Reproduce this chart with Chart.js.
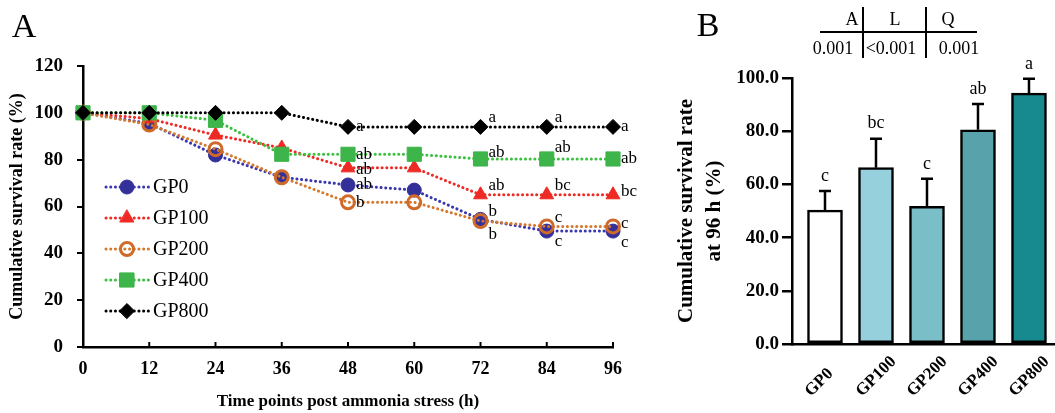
<!DOCTYPE html>
<html>
<head>
<meta charset="utf-8">
<script src="https://cdn.jsdelivr.net/npm/chart.js@4.4.1/dist/chart.umd.min.js"></script>
<style>
  html, body { margin: 0; padding: 0; background: #fff; }
  #wrap { position: relative; width: 1055px; height: 413px; }
  #lineChart { position: absolute; left: 0; top: 0; }
  #barChart { position: absolute; left: 650px; top: 0; }
</style>
</head>
<body>
<div id="wrap">
  <canvas id="lineChart" width="650" height="413"></canvas>
  <canvas id="barChart" width="405" height="413"></canvas>
</div>
<script>
// ---- Daten: kumulative Überlebensrate (%) nach Ammoniakstress ----
const hours = [0, 12, 24, 36, 48, 60, 72, 84, 96];
const gp0   = [100, 95.5, 82, 72.5, 69.2, 67, 54.5, 49.5, 49.5];
const gp100 = [100, 97.5, 90.5, 85, 76.5, 76.5, 65, 65, 65];
const gp200 = [100, 95, 84.5, 72.5, 61.8, 61.8, 53.8, 51.5, 51.5];
const gp400 = [100, 100, 96.8, 82.3, 82.3, 82.3, 80.3, 80.3, 80.3];
const gp800 = [100, 100, 100, 100, 94, 94, 94, 94, 94];

// Signifikanzbuchstaben je Zeitpunkt
const sigGP0   = ['', '', '', '', 'ab', '', 'b', 'c', 'c'];
const sigGP100 = ['', '', '', '', 'ab', '', 'ab', 'bc', 'bc'];
const sigGP200 = ['', '', '', '', 'b', '', 'b', 'c', 'c'];
const sigGP400 = ['', '', '', '', 'ab', '', 'ab', 'ab', 'ab'];
const sigGP800 = ['', '', '', '', 'a', '', 'a', 'a', 'a'];

// ---- Daten: Überlebensrate nach 96 h ----
const groups = ['GP0', 'GP100', 'GP200', 'GP400', 'GP800'];
const survival96 = [50.3, 66.3, 51.8, 80.5, 94.3];
const survivalSE = [7.2, 10.9, 10.3, 9.7, 5.4];
const barLetters = ['c', 'bc', 'c', 'ab', 'a'];

// Kontraste (A, L, Q) und P-Werte
const effects = ['A', 'L', 'Q'];
const pValues = ['0.001', '<0.001', '0.001'];

// ---- Stil ----
const SERIF = "'Liberation Serif', 'Times New Roman', serif";
Chart.defaults.font.family = SERIF;
Chart.defaults.color = '#000';

// vertikale Verschiebung der Buchstaben (px) relativ zum Punkt
const sigShift = {
    GP0:   [0, 0, 0, 0, 0, 0, -8, 10, 11],
    GP100: [0, 0, 0, 0, 2, 0, -9, -9, -3],
    GP200: [0, 0, 0, 0, 0, 0, 14, -9, -3],
    GP400: [0, 0, 0, 0, 0, 0, -6, -11, 0],
    GP800: [0, 0, 0, 0, 0, 0, -9, -9, 0]
};

const series = [
    { label: 'GP0',   data: gp0,   sig: sigGP0,   color: '#34309a', fill: '#34309a', style: 'circle',   radius: 7,  bw: 1,   order: 5 },
    { label: 'GP100', data: gp100, sig: sigGP100, color: '#ee2a24', fill: '#ee2a24', style: 'triangle', radius: 8,  bw: 1,   order: 4 },
    { label: 'GP200', data: gp200, sig: sigGP200, color: '#cf6a2a', fill: 'rgba(0,0,0,0)', style: 'circle', radius: 6.5, bw: 3, order: 3 },
    { label: 'GP400', data: gp400, sig: sigGP400, color: '#3db54a', fill: '#3db54a', style: 'rect',     radius: 10, bw: 1,   order: 2 },
    { label: 'GP800', data: gp800, sig: sigGP800, color: '#000000', fill: '#000000', style: 'rectRot',  radius: 7.5, bw: 1,  order: 1 }
];

const lineColors = { GP0: '#3a36b0', GP100: '#ee2a24', GP200: '#d4782e', GP400: '#3cc040', GP800: '#000000' };
const DOTS = [0.1, 4.6];

// ---- Plugin: Legende, Buchstaben, innere x-Ticks, "A" ----
const lineExtras = {
    id: 'lineExtras',
    afterDraw(chart) {
        const ctx = chart.ctx;
        const area = chart.chartArea;
        const xs = chart.scales.x;
        ctx.save();

        // Ticks nach innen
        ctx.strokeStyle = '#000';
        ctx.lineWidth = 2;
        hours.slice(1).forEach(h => {
            const x = xs.getPixelForValue(h);
            ctx.beginPath();
            ctx.moveTo(x, area.bottom);
            ctx.lineTo(x, area.bottom - 5);
            ctx.stroke();
        });

        // Buchstaben neben den Punkten
        ctx.font = '17px ' + SERIF;
        ctx.fillStyle = '#000';
        ctx.textAlign = 'left';
        ctx.textBaseline = 'middle';
        series.forEach((s, i) => {
            const meta = chart.getDatasetMeta(i);
            s.sig.forEach((txt, j) => {
                if (!txt) return;
                const p = meta.data[j];
                ctx.fillText(txt, p.x + 8, p.y + sigShift[s.label][j]);
            });
        });

        // Legende
        series.forEach((s, i) => {
            const y = area.top + 121 + i * 31;
            ctx.strokeStyle = lineColors[s.label];
            ctx.lineWidth = 3;
            ctx.lineCap = 'round';
            ctx.setLineDash(DOTS);
            ctx.beginPath();
            ctx.moveTo(106, y);
            ctx.lineTo(149, y);
            ctx.stroke();
            ctx.setLineDash([]);
            ctx.fillStyle = s.fill;
            ctx.strokeStyle = s.color;
            ctx.lineWidth = s.bw;
            Chart.helpers.drawPoint(ctx, { pointStyle: s.style, radius: s.radius, rotation: 0, borderWidth: s.bw }, 127, y);
            ctx.fillStyle = '#000';
            ctx.font = '20px ' + SERIF;
            ctx.fillText(s.label, 153, y + 1);
        });

        ctx.font = '34px ' + SERIF;
        ctx.textAlign = 'center';
        ctx.fillText('A', 24, 28);
        ctx.restore();
    }
};

new Chart(document.getElementById('lineChart'), {
    type: 'line',
    data: {
        datasets: series.map(s => ({
            label: s.label,
            data: hours.map((h, i) => ({ x: h, y: s.data[i] })),
            borderColor: lineColors[s.label],
            borderWidth: 3,
            borderDash: DOTS,
            borderCapStyle: 'round',
            pointStyle: s.style,
            pointRadius: s.radius,
            pointBackgroundColor: s.fill,
            pointBorderColor: s.color,
            pointBorderWidth: s.bw,
            order: s.order,
            clip: false,
            tension: 0
        }))
    },
    options: {
        responsive: false,
        animation: false,
        events: [],
        layout: { padding: { left: 0, top: 66, right: 37, bottom: 0 } },
        plugins: { legend: { display: false }, tooltip: { enabled: false } },
        scales: {
            x: {
                type: 'linear',
                min: 0,
                max: 96,
                afterFit: s => { s.height = 66; },
                ticks: { stepSize: 12, padding: 12, font: { size: 18, weight: 'bold' } },
                grid: { drawOnChartArea: false, drawTicks: false },
                border: { color: '#000', width: 2.5 },
                title: {
                    display: true,
                    text: 'Time points post ammonia stress (h)',
                    font: { size: 17, weight: 'bold' },
                    padding: { top: 0, bottom: 1 }
                }
            },
            y: {
                min: 0,
                max: 120,
                afterFit: s => { s.width = 83; },
                ticks: { stepSize: 20, padding: 14, font: { size: 19, weight: 'bold' } },
                grid: { drawOnChartArea: false, tickLength: 6, color: '#000', lineWidth: 2 },
                border: { color: '#000', width: 2.5 },
                title: {
                    display: true,
                    text: 'Cumulative survival rate (%)',
                    font: { size: 18, weight: 'bold' },
                    padding: { top: 7, bottom: 0 }
                }
            }
        }
    },
    plugins: [lineExtras]
});

// ---- Plugin: Fehlerbalken, Buchstaben, Gruppennamen, Tabelle, "B" ----
const barExtras = {
    id: 'barExtras',
    afterDatasetsDraw(chart) {
        const ctx = chart.ctx;
        const ys = chart.scales.y;
        const meta = chart.getDatasetMeta(0);
        ctx.save();
        ctx.strokeStyle = '#000';
        ctx.lineWidth = 2.5;
        ctx.fillStyle = '#000';
        ctx.font = '18px ' + SERIF;
        ctx.textAlign = 'center';
        ctx.textBaseline = 'middle';
        meta.data.forEach((bar, i) => {
            const top = ys.getPixelForValue(survival96[i] + survivalSE[i]);
            ctx.beginPath();
            ctx.moveTo(bar.x, bar.y);
            ctx.lineTo(bar.x, top);
            ctx.moveTo(bar.x - 6, top);
            ctx.lineTo(bar.x + 6, top);
            ctx.stroke();
            ctx.fillText(barLetters[i], bar.x, top - 15);
        });

        // schräge Gruppennamen, unten links verankert
        ctx.font = 'bold 17px ' + SERIF;
        ctx.textAlign = 'left';
        ctx.textBaseline = 'alphabetic';
        const base = chart.chartArea.bottom + 53;
        meta.data.forEach((bar, i) => {
            ctx.save();
            ctx.translate(bar.x - 14, base);
            ctx.rotate(-Math.PI / 4);
            ctx.fillText(groups[i], 0, 0);
            ctx.restore();
        });
        ctx.restore();
    },
    afterDraw(chart) {
        const ctx = chart.ctx;
        const L = chart.chartArea.left;
        ctx.save();
        ctx.fillStyle = '#000';
        ctx.strokeStyle = '#000';
        ctx.textBaseline = 'middle';
        ctx.textAlign = 'center';
        ctx.font = '34px ' + SERIF;
        ctx.fillText('B', 58, 27);

        // Tabelle mit P-Werten
        const headX = [60, 103, 156];
        const valX = [41, 99, 167];
        ctx.font = '18px ' + SERIF;
        effects.forEach((e, i) => ctx.fillText(e, L + headX[i], 20));
        pValues.forEach((p, i) => ctx.fillText(p, L + valX[i], 49));
        ctx.lineWidth = 2;
        ctx.beginPath();
        ctx.moveTo(L + 28, 32);
        ctx.lineTo(L + 185, 32);
        ctx.moveTo(L + 71, 7);
        ctx.lineTo(L + 71, 58);
        ctx.moveTo(L + 134, 7);
        ctx.lineTo(L + 134, 58);
        ctx.stroke();
        ctx.restore();
    }
};

new Chart(document.getElementById('barChart'), {
    type: 'bar',
    data: {
        datasets: [{
            data: groups.map((g, i) => ({ x: i, y: survival96[i] })),
            backgroundColor: ['#ffffff', '#97d0dd', '#7abfc8', '#58a3ab', '#178a8f'],
            borderColor: '#000',
            borderWidth: 2.5,
            borderSkipped: false,
            barThickness: 35
        }]
    },
    options: {
        responsive: false,
        animation: false,
        events: [],
        layout: { padding: { left: 0, top: 78, right: 0, bottom: 0 } },
        plugins: { legend: { display: false }, tooltip: { enabled: false } },
        scales: {
            x: {
                type: 'linear',
                offset: false,
                min: -0.647,
                max: 4.51,
                afterFit: s => { s.height = 69; },
                afterBuildTicks: s => { s.ticks = groups.map((g, i) => ({ value: i })); },
                ticks: { display: false },
                grid: { display: false },
                border: { color: '#000', width: 2.5 }
            },
            y: {
                min: 0,
                max: 100,
                afterFit: s => { s.width = 142; },
                ticks: { stepSize: 20, padding: 3, font: { size: 19, weight: 'bold' }, callback: v => v.toFixed(1) },
                grid: { drawOnChartArea: false, tickLength: 10, color: '#000', lineWidth: 2.5 },
                border: { color: '#000', width: 2.5 },
                title: {
                    display: true,
                    text: ['Cumulative survival rate', 'at 96 h (%)'],
                    font: { size: 21, weight: 'bold', lineHeight: 1.33 },
                    padding: { top: 23, bottom: 0 }
                }
            }
        }
    },
    plugins: [barExtras]
});
</script>
</body>
</html>
